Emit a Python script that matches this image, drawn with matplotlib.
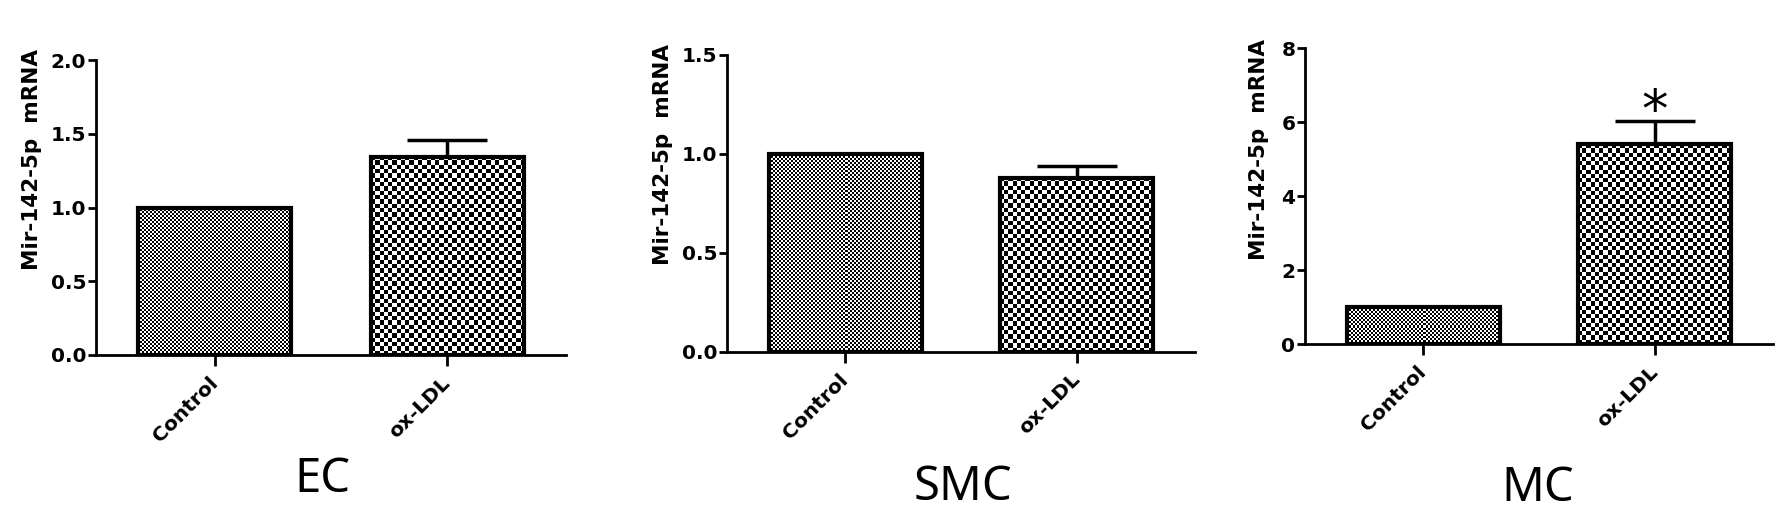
import matplotlib.pyplot as plt
import numpy as np

groups = ['Control', 'ox-LDL']
cell_types = ['EC', 'SMC', 'MC']
ylabel = 'Mir-142-5p  mRNA'

ec_mean = [1.0, 1.345]
ec_sem = [0.0, 0.115]
smc_mean = [1.0, 0.88]
smc_sem = [0.0, 0.06]
mc_mean = [1.0, 5.41]
mc_sem = [0.0, 0.63]

ec_ticks = [0.0, 0.5, 1.0, 1.5, 2.0]
smc_ticks = [0.0, 0.5, 1.0, 1.5]
mc_ticks = [0, 2, 4, 6, 8]

# which bars carry a significance star
mc_star = [False, True]

W, H = 1783, 515
fig = plt.figure(figsize=(W / 100, H / 100), dpi=100)


def px_rect(left, right, top, bottom):
    return [left / W, (H - bottom) / H, (right - left) / W, (bottom - top) / H]


panels = [
    (cell_types[0], ec_mean, ec_sem, ec_ticks, '%.1f', None,
     px_rect(96, 566, 60, 355), -0.136, 0.664, 0.481, -0.464),
    (cell_types[1], smc_mean, smc_sem, smc_ticks, '%.1f', None,
     px_rect(727, 1195, 55, 351.7), -0.137, 0.666, 0.504, -0.50),
    (cell_types[2], mc_mean, mc_sem, mc_ticks, '%d', mc_star,
     px_rect(1305, 1773, 48.3, 344), -0.098, 0.659, 0.498, -0.53),
]

cells = [2.0, 4.3]  # checker cell size in pixels, per group

for name, mean, sem, ticks, fmt, stars, rect, ylx, yly, tx, ty in panels:
    ax = fig.add_axes(rect)
    x = np.arange(len(groups))
    ax.set_xlim(-0.51, 1.51)
    ax.set_ylim(ticks[0], ticks[-1])

    bars = ax.bar(x, mean, width=0.66, facecolor='none', edgecolor='black',
                  linewidth=3, zorder=3)

    # checkerboard fill, clipped to each bar
    for i, b in enumerate(bars):
        x0, y0 = b.get_x(), b.get_y()
        w, h = b.get_width(), b.get_height()
        p0 = ax.transData.transform((x0, y0))
        p1 = ax.transData.transform((x0 + w, y0 + h))
        nx = max(1, int(round((p1[0] - p0[0]) / cells[i])))
        ny = max(1, int(round((p1[1] - p0[1]) / cells[i])))
        board = np.add.outer(np.arange(ny), np.arange(nx)) % 2
        im = ax.imshow(board, cmap='gray', vmin=0, vmax=1, extent=(x0, x0 + w, y0, y0 + h),
                       aspect='auto', interpolation='nearest', zorder=2)
        im.set_clip_path(b)

    for i in range(len(groups)):
        if sem[i] > 0:
            ax.errorbar(x[i], mean[i], yerr=[[0], [sem[i]]], fmt='none', ecolor='black',
                        elinewidth=2.5, capsize=29, capthick=2.5, zorder=1)
        if stars is not None and stars[i]:
            ax.annotate('*', (x[i], mean[i] + sem[i]), xytext=(0, -6),
                        textcoords='offset pixels', ha='center', va='baseline',
                        fontsize=38, family='DejaVu Sans')

    ax.set_xlim(-0.51, 1.51)
    ax.set_ylim(ticks[0], ticks[-1])
    ax.set_yticks(ticks)
    ax.set_yticklabels([fmt % t for t in ticks], fontsize=14.5, fontweight='bold',
                       family='DejaVu Sans')
    ax.set_xticks(x)
    ax.set_xticklabels(groups, fontsize=14.5, fontweight='bold', family='DejaVu Sans',
                       rotation=45, ha='right', va='center', rotation_mode='anchor')

    ax.tick_params(axis='y', direction='out', length=6, width=2, pad=1)
    ax.tick_params(axis='x', direction='out', length=8, width=2, pad=10)
    for pos in ['right', 'top']:
        ax.spines[pos].set_visible(False)
    for pos in ['left', 'bottom']:
        ax.spines[pos].set_linewidth(2)

    ax.text(ylx, yly, ylabel, transform=ax.transAxes, rotation=90, ha='center', va='center',
            fontsize=15.5, fontweight='bold', family='DejaVu Sans')
    ax.text(tx, ty, name, transform=ax.transAxes, ha='center', va='baseline',
            fontsize=34, family='Noto Sans')

fig.savefig('out.png', dpi=100)
